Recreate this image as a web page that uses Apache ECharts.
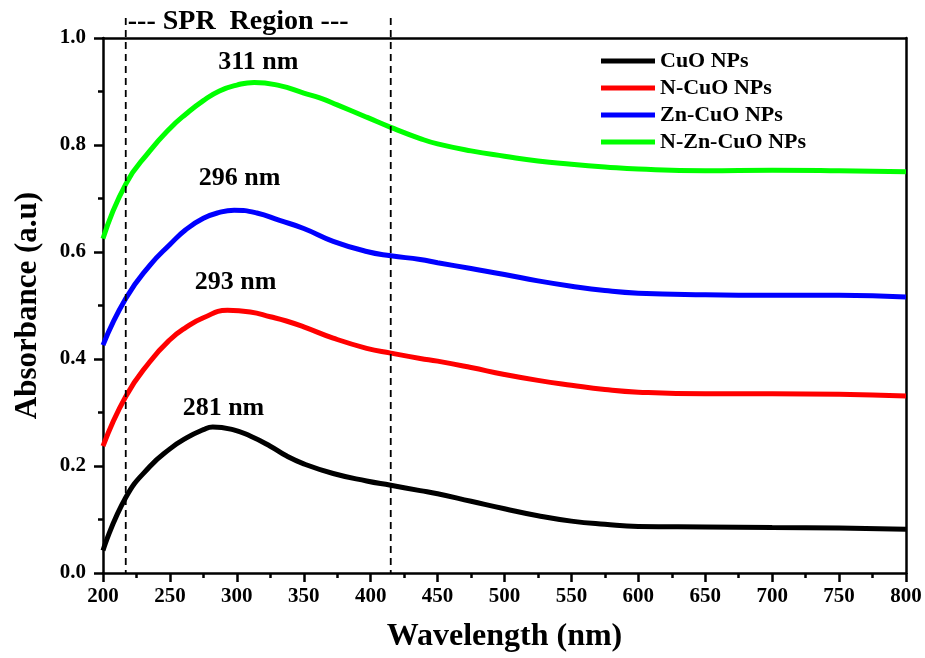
<!DOCTYPE html>
<html>
<head>
<meta charset="utf-8">
<script src="https://cdn.jsdelivr.net/npm/echarts@6/dist/echarts.min.js"></script>
<style>
  html, body { margin: 0; padding: 0; background: #fff; }
  #chart { width: 925px; height: 658px; }
</style>
</head>
<body>
<div id="chart"></div>
<script>
// wavelength (nm) / absorbance pairs
const cuo = [[200, 0.042], [217, 0.141], [235, 0.199], [250, 0.232], [262, 0.252], [275, 0.268], [282, 0.273], [297, 0.268], [310, 0.256], [325, 0.237], [337, 0.219], [350, 0.204], [372, 0.186], [397, 0.172], [415, 0.164], [437, 0.154], [450, 0.148], [475, 0.134], [500, 0.12], [525, 0.107], [550, 0.097], [575, 0.091], [600, 0.087], [650, 0.086], [700, 0.085], [750, 0.084], [800, 0.082]]
const nCuo = [[200, 0.237], [217, 0.33], [235, 0.395], [250, 0.436], [262, 0.459], [275, 0.477], [293, 0.491], [310, 0.488], [325, 0.479], [337, 0.471], [350, 0.46], [372, 0.439], [397, 0.42], [415, 0.411], [437, 0.401], [450, 0.396], [475, 0.384], [500, 0.371], [525, 0.36], [550, 0.351], [575, 0.343], [600, 0.338], [650, 0.335], [700, 0.335], [750, 0.334], [800, 0.331]]
const znCuo = [[200, 0.426], [217, 0.513], [235, 0.575], [250, 0.614], [262, 0.642], [275, 0.663], [287, 0.674], [298, 0.678], [315, 0.673], [332, 0.659], [350, 0.644], [372, 0.62], [397, 0.601], [415, 0.593], [437, 0.586], [450, 0.58], [475, 0.569], [500, 0.558], [525, 0.546], [550, 0.536], [575, 0.528], [600, 0.523], [650, 0.52], [700, 0.519], [750, 0.519], [800, 0.516]]
const nZnCuo = [[200, 0.625], [217, 0.727], [235, 0.789], [250, 0.831], [262, 0.858], [275, 0.883], [287, 0.901], [300, 0.912], [313, 0.917], [332, 0.911], [350, 0.897], [362, 0.888], [375, 0.875], [397, 0.852], [415, 0.833], [437, 0.812], [450, 0.802], [475, 0.789], [500, 0.779], [525, 0.77], [550, 0.764], [575, 0.759], [600, 0.755], [650, 0.752], [700, 0.753], [750, 0.752], [800, 0.75]]

const seriesNames = ['CuO NPs', 'N-CuO NPs', 'Zn-CuO NPs', 'N-Zn-CuO NPs']
const seriesColors = ['#000000', '#ff0000', '#0000ff', '#00ff00']
const seriesData = [cuo, nCuo, znCuo, nZnCuo]

// peak labels (text, wavelength, absorbance of the text centre)
const peakLabels = [['281 nm', 290, 0.307], ['293 nm', 299, 0.543], ['296 nm', 302, 0.738], ['311 nm', 316, 0.955]]
// SPR region bounds (nm)
const sprLines = [217, 415]

const font = 'Liberation Serif'
const chart = echarts.init(document.getElementById('chart'))

const axisCommon = {
  axisLine: { show: true, onZero: false, lineStyle: { color: '#000', width: 2.5 } },
  splitLine: { show: false }
}

chart.setOption({
  animation: false,
  grid: { left: 103, right: 19, top: 38, bottom: 82 },
  legend: {
    left: 596,
    top: 45,
    orient: 'vertical',
    icon: 'rect',
    itemWidth: 54,
    itemHeight: 5,
    itemGap: 5,
    textStyle: { fontFamily: font, fontWeight: 'bold', fontSize: 22, color: '#000', lineHeight: 22 },
    data: seriesNames
  },
  xAxis: [
    Object.assign({}, axisCommon, {
      type: 'value',
      min: 200,
      max: 800,
      interval: 50,
      name: 'Wavelength (nm)',
      nameLocation: 'middle',
      nameGap: 48,
      nameTextStyle: { fontFamily: font, fontWeight: 'bold', fontSize: 32, color: '#000' },
      axisTick: { show: true, inside: false, length: 9, lineStyle: { width: 2.5, color: '#000' } },
      minorTick: { show: true, splitNumber: 2, length: 5, lineStyle: { width: 2.5, color: '#000' } },
      axisLabel: { fontFamily: font, fontWeight: 'bold', fontSize: 21, color: '#000', margin: 13 }
    }),
    Object.assign({}, axisCommon, {
      type: 'value', min: 200, max: 800, position: 'top',
      axisTick: { show: false }, axisLabel: { show: false }
    })
  ],
  yAxis: [
    Object.assign({}, axisCommon, {
      type: 'value',
      min: 0,
      max: 1,
      interval: 0.2,
      name: 'Absorbance (a.u)',
      nameLocation: 'middle',
      nameGap: 60,
      nameTextStyle: { fontFamily: font, fontWeight: 'bold', fontSize: 31, color: '#000' },
      axisTick: { show: true, inside: false, length: 9, lineStyle: { width: 2.5, color: '#000' } },
      minorTick: { show: true, splitNumber: 2, length: 5, lineStyle: { width: 2.5, color: '#000' } },
      axisLabel: { fontFamily: font, fontWeight: 'bold', fontSize: 21, color: '#000', margin: 17,
        formatter: v => v.toFixed(1) }
    }),
    Object.assign({}, axisCommon, {
      type: 'value', min: 0, max: 1, position: 'right',
      axisTick: { show: false }, axisLabel: { show: false }
    })
  ],
  series: seriesData.map((d, i) => ({
    name: seriesNames[i],
    type: 'line',
    smooth: 0.5,
    showSymbol: false,
    color: seriesColors[i],
    lineStyle: { width: 5, color: seriesColors[i] },
    data: d
  }))
})

// annotations placed through the axes
const plotTop = chart.convertToPixel({ gridIndex: 0 }, [200, 1])[1]
const plotBottom = chart.convertToPixel({ gridIndex: 0 }, [200, 0])[1]
const graphics = []
sprLines.forEach(w => {
  const x = chart.convertToPixel({ gridIndex: 0 }, [w, 0])[0]
  graphics.push({
    type: 'line',
    shape: { x1: x, y1: plotTop - 20, x2: x, y2: plotBottom },
    style: { stroke: '#000', lineWidth: 1.8, lineDash: [7, 5] },
    z: 10
  })
})
const x0 = chart.convertToPixel({ gridIndex: 0 }, [sprLines[0], 0])[0]
graphics.push({
  type: 'text',
  x: x0 + 2,
  y: plotTop - 16,
  style: { text: '--- SPR  Region ---', fontFamily: font, fontWeight: 'bold', fontSize: 28, fill: '#000',
    align: 'left', verticalAlign: 'middle' },
  z: 10
})
peakLabels.forEach(p => {
  const pt = chart.convertToPixel({ gridIndex: 0 }, [p[1], p[2]])
  graphics.push({
    type: 'text',
    x: pt[0],
    y: pt[1],
    style: { text: p[0], fontFamily: font, fontWeight: 'bold', fontSize: 26, fill: '#000',
      align: 'center', verticalAlign: 'middle' },
    z: 10
  })
})
chart.setOption({ graphic: graphics })
</script>
</body>
</html>
